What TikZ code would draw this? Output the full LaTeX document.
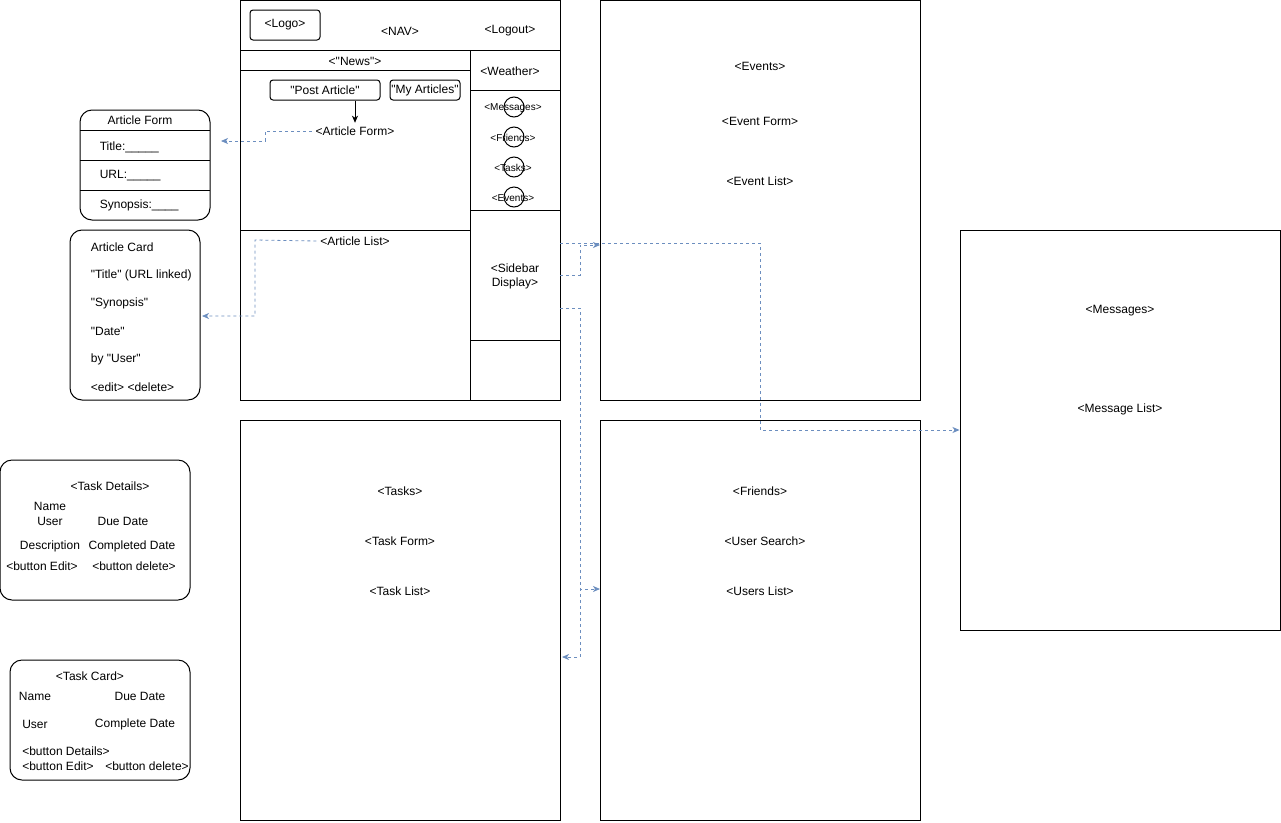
\documentclass[tikz,border=0pt]{standalone}
\usepackage{fontspec}
\setmainfont{Liberation Sans}[Ligatures=TeXOff]
\usetikzlibrary{arrows.meta}
\definecolor{linkblue}{HTML}{6C8EBF}

\begin{document}
\begin{tikzpicture}[x=1pt,y=-1pt,>={Stealth[length=7pt,width=6pt,inset=2pt]},
  font=\fontsize{12}{14}\selectfont, line width=1pt,
  panel/.style={draw,minimum width=320pt,minimum height=400pt,inner sep=0pt},
  btn/.style={draw,rounded corners=3pt,minimum height=20pt,inner sep=0pt},
  card/.style={draw,rounded corners=12pt,inner sep=0pt},
  dot/.style={draw,circle,minimum size=20pt,inner sep=0pt},
  small/.style={font=\fontsize{10}{12}\selectfont,inner sep=0pt},
  link/.style={->,draw=linkblue,dash pattern=on 3pt off 3pt,line width=0.8pt,fill=none},
  every node/.append style={text=black}]
\useasboundingbox (0,0) rectangle (1281,822);

% home view
\node[panel] (home) at (400,200) {};
\draw (240,50) -- (560,50);
\draw (470,50) -- (470,400);
\draw (240,70) -- (470,70);
\draw (470,90) -- (560,90);
\draw (470,210) -- (560,210);
\draw (240,230) -- (470,230);
\draw (470,340) -- (560,340);
\node[btn,minimum width=70pt,minimum height=30pt] (logo) at (285,25) {<Logo>};
\node (nav) at (400,31) {<NAV>};
\node (logout) at (510,31) {<Logout>};
\node (news) at (355,61) {<"News">};
\node (weather) at (510,71) {<Weather>};
\node[btn,minimum width=110pt] (post) at (325,90) {"Post Article"};
\node[btn,minimum width=70pt] (mine) at (425,90) {"My Articles"};
\node (artform) at (355,131) {<Article Form>};
\node (artlist) at (355,241) {<Article List>};
\foreach \name/\y in {Messages/107,Friends/137,Tasks/167,Events/197} {
  \node[dot] (dot\name) at (514,\y) {};
  \node[small] (lbl\name) at (513,\y+1) {<\name>};
}
\node[align=center] (sidebar) at (515,276) {<Sidebar\\Display>};
\draw[->] (post.south -| artform) -- (artform.north);

% other views
\node[panel] (events) at (760,200) {};
\node (evtitle) at (760,66) {<Events>};
\node (evform) at (760,121) {<Event Form>};
\node (evlist) at (760,181) {<Event List>};
\node[panel] (messages) at (1120,430) {};
\node (msgtitle) at (1120,311) {<Messages>};
\node (msglist) at (1120,409) {<Message List>};
\node[panel] (tasks) at (400,620) {};
\node (tktitle) at (400,491) {<Tasks>};
\node (tkform) at (400,541) {<Task Form>};
\node (tklist) at (400,591) {<Task List>};
\node[panel] (friends) at (760,620) {};
\node (frtitle) at (760,491) {<Friends>};
\node (frsearch) at (765,541) {<User Search>};
\node (frlist) at (760,591) {<Users List>};

% article form
\node[card,minimum width=130pt,minimum height=110pt] (formcard) at (145,165) {};
\draw (80,130) -- (210,130);
\draw (80,160) -- (210,160);
\draw (80,190) -- (210,190);
\node (fhead) at (140,120) {Article Form};
\node[anchor=west] (ftitle) at (96,147) {Title:\_\_\_\_\_};
\node[anchor=west] (furl) at (96,176) {URL:\_\_\_\_\_};
\node[anchor=west] (fsyn) at (96,205) {Synopsis:\_\_\_\_};

% article card
\node[card,minimum width=130pt,minimum height=170pt] (artcard) at (135,315) {};
\node[anchor=west] (chead) at (87,247) {Article Card};
\node[anchor=west] (ctitle) at (87,275) {"Title" (URL linked)};
\node[anchor=west] (csyn) at (87,303) {"Synopsis"};
\node[anchor=west] (cdate) at (87,331) {"Date"};
\node[anchor=west] (cuser) at (87,359) {by "User"};
\node[anchor=west] (cedit) at (87,387) {<edit> <delete>};

% task details
\node[card,minimum width=190pt,minimum height=140pt] (taskdet) at (95,530) {};
\node (dhead) at (110,486) {<Task Details>};
\node (dname) at (50,506) {Name};
\node (duser) at (50,521) {User};
\node (ddue) at (123,521) {Due Date};
\node (ddesc) at (50,546) {Description};
\node (ddone) at (132,546) {Completed Date};
\node (dedit) at (42,566) {<button Edit>};
\node (ddel) at (134,566) {<button delete>};

% task card
\node[card,minimum width=180pt,minimum height=120pt] (taskcard) at (100,720) {};
\node (thead) at (90,676) {<Task Card>};
\node (tname) at (35,696) {Name};
\node (tdue) at (140,696) {Due Date};
\node (tuser) at (35,724) {User};
\node (tdone) at (135,724) {Complete Date};
\node (tdetail) at (66,751) {<button Details>};
\node (tedit) at (58,766) {<button Edit>};
\node (tdel) at (147,766) {<button delete>};

% links
\coordinate (formin) at (221,141);
\coordinate (cardin) at (202,316);
\coordinate (sbA) at (560,243);
\coordinate (sbB) at (560,275);
\coordinate (sbC) at (560,308);
\coordinate (evin) at (600,245);
\coordinate (frin) at (600,589);
\coordinate (tkin) at (562,657);
\draw[link] (artform.west) -- (265,131) |- (formin);
\draw[link] (artlist.west) -- (255,240) |- (cardin);
\draw[link] (sbA) -- (760,243) |- (messages.west);
\draw[link] (sbB) -- (580,275) |- (evin);
\draw[link] (sbC) -- (580,308) |- (frin);
\draw[link] (sbC) -- (580,308) |- (tkin);
\end{tikzpicture}
\end{document}
